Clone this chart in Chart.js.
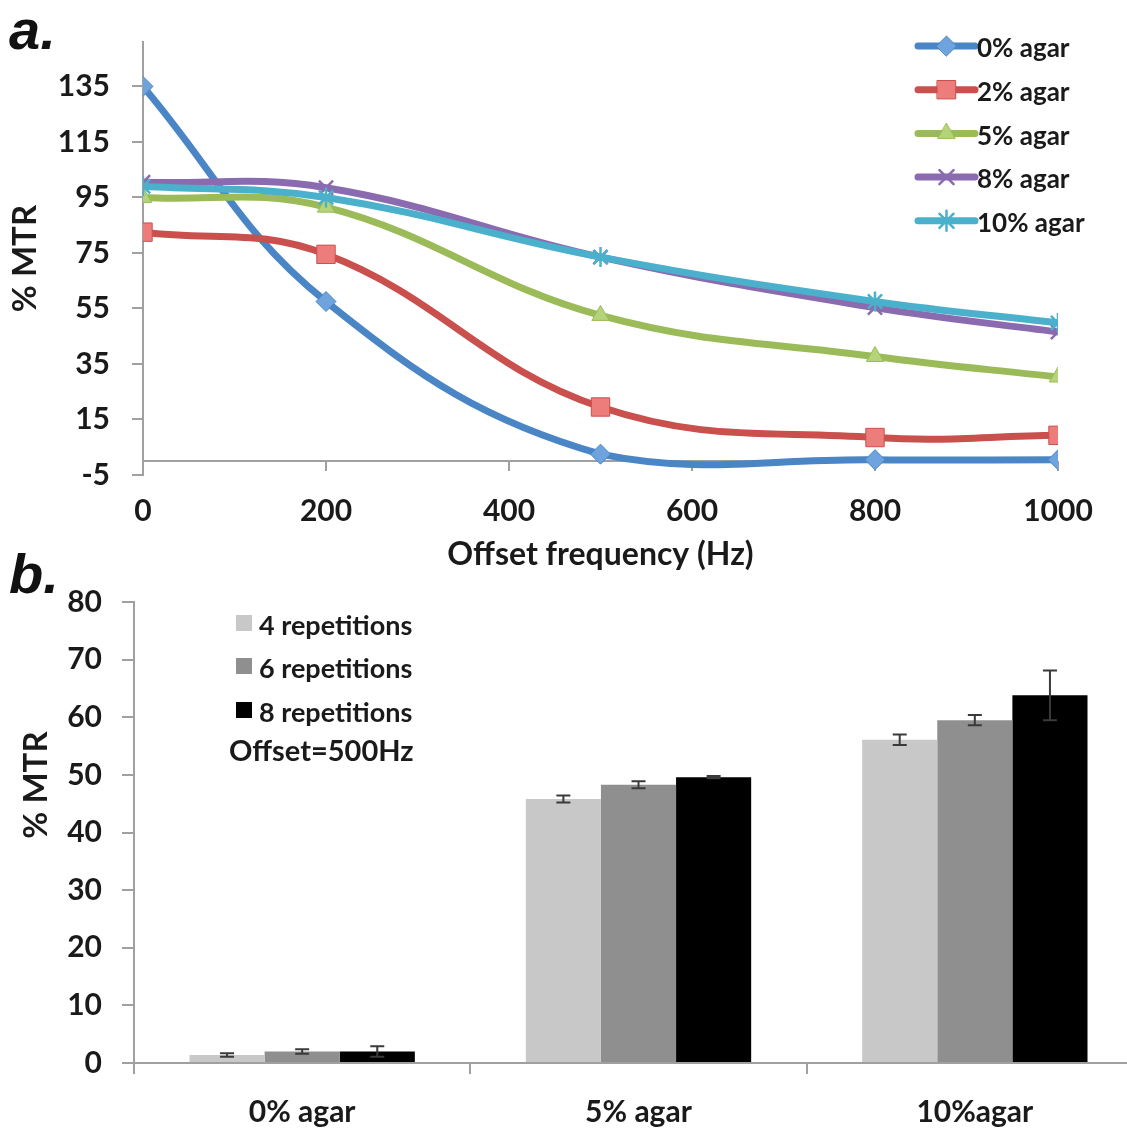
<!DOCTYPE html>
<html>
<head>
<meta charset="utf-8">
<script src="https://cdn.jsdelivr.net/npm/chart.js@4.4.0/dist/chart.umd.min.js"></script>
<style>
    html, body { margin: 0; padding: 0; background: #fff; overflow: hidden; width: 1127px; height: 1128px; }
    #wrap-a { position: absolute; left: 0; top: 0; width: 1127px; height: 580px; }
    #wrap-b { position: absolute; left: 0; top: 580px; width: 1150px; height: 548px; }
    .panel { position: absolute; font: italic bold 56px "Liberation Sans", Arial, sans-serif; color: #111; line-height: 1; }
</style>
</head>
<body>
<div id="wrap-a"><canvas id="chart-a"></canvas></div>
<div id="wrap-b"><canvas id="chart-b"></canvas></div>
<div class="panel" style="left:9px; top:2px;">a.</div>
<div class="panel" style="left:9px; top:546px;">b.</div>

<script>
// ---- panel a: MTR vs offset frequency ----
const offsets = [0, 200, 500, 800, 1000];
const agar0 = [135, 57.5, 2.5, 0.5, 0.5];
const agar2 = [82.5, 74.5, 19.5, 8.5, 9.3];
const agar5 = [95, 91.5, 52.5, 37.7, 30.3];
const agar8 = [100.5, 98.5, 73.5, 55.3, 46.5];
const agar10 = [99, 95, 73.5, 57.5, 49.8];
const yTicksA = [-5, 15, 35, 55, 75, 95, 115, 135];
const xTicksA = [0, 200, 400, 600, 800, 1000];

// ---- panel b: MTR at 500 Hz by repetitions ----
const groups = ['0% agar', '5% agar', '10%agar'];
const rep4 = [1.4, 45.8, 56.1];
const rep6 = [2.0, 48.3, 59.5];
const rep8 = [2.0, 49.6, 63.8];
const rep4Err = [0.3, 0.6, 0.9];
const rep6Err = [0.4, 0.6, 0.9];
const rep8Err = [0.9, 0.2, 4.3];
const yTicksB = [0, 10, 20, 30, 40, 50, 60, 70, 80];

const FONT = 'Lato, "Open Sans", sans-serif';
const AXIS_GREY = '#a0a0a0';
const TEXT = '#1a1a1a';

document.addEventListener('DOMContentLoaded', function() {

    function lineSet(label, values, color, fill, style, radius, order) {
        return {
            label: label,
            data: offsets.map((x, i) => ({ x: x, y: values[i] })),
            borderColor: color,
            backgroundColor: fill,
            borderWidth: 7,
            pointStyle: style,
            pointRadius: radius,
            pointBackgroundColor: fill,
            pointBorderColor: color,
            pointBorderWidth: (style === 'crossRot' || style === 'star') ? 2.5 : 1,
            tension: 0.4,
            fill: false,
            order: order
        };
    }

    // keep the chart area where the reference has it
    function noLabelPadding(scale) {
        scale.paddingTop = 0;
        scale.paddingBottom = 0;
    }

    // zero line with tick marks, like Excel's axis crossing at 0
    const zeroAxis = {
        id: 'zeroAxis',
        beforeDatasetsDraw(chart) {
            const ctx = chart.ctx;
            const xs = chart.scales.x, ys = chart.scales.y;
            const y0 = ys.getPixelForValue(0);
            ctx.save();
            ctx.strokeStyle = AXIS_GREY;
            ctx.lineWidth = 2;
            ctx.beginPath();
            ctx.moveTo(xs.left, y0);
            ctx.lineTo(xs.right, y0);
            xTicksA.forEach(v => {
                if (v === 0) return;
                const px = xs.getPixelForValue(v);
                ctx.moveTo(px, y0);
                ctx.lineTo(px, y0 + 10);
            });
            ctx.stroke();
            ctx.restore();
        }
    };

    // legend with line + marker samples inside the plot
    const lineLegend = {
        id: 'lineLegend',
        afterDraw(chart) {
            const ctx = chart.ctx;
            const x0 = 918, x1 = 975, top = 46, gap = 43.7;
            ctx.save();
            chart.data.datasets.forEach((ds, i) => {
                const y = top + i * gap;
                ctx.strokeStyle = ds.borderColor;
                ctx.lineWidth = 7;
                ctx.lineCap = 'round';
                ctx.beginPath();
                ctx.moveTo(x0, y);
                ctx.lineTo(x1, y);
                ctx.stroke();
                ctx.fillStyle = ds.pointBackgroundColor;
                ctx.strokeStyle = ds.pointBorderColor;
                ctx.lineWidth = ds.pointBorderWidth;
                Chart.helpers.drawPoint(ctx, {
                    pointStyle: ds.pointStyle,
                    radius: ds.pointRadius,
                    rotation: 0,
                    borderWidth: ds.pointBorderWidth
                }, (x0 + x1) / 2, y);
                ctx.fillStyle = TEXT;
                ctx.font = 'bold 26px ' + FONT;
                ctx.textBaseline = 'middle';
                ctx.textAlign = 'left';
                ctx.fillText(ds.label, x1 + 2, y + 3);
            });
            ctx.restore();
        }
    };

    const ctxA = document.getElementById('chart-a').getContext('2d');
    const chartA = new Chart(ctxA, {
        type: 'line',
        data: {
            datasets: [
                lineSet('0% agar', agar0, '#4a85c6', '#6fa3dd', 'rectRot', 10, 5),
                lineSet('2% agar', agar2, '#c9504d', '#ec7d7b', 'rect', 13, 4),
                lineSet('5% agar', agar5, '#9bbb59', '#b5d47a', 'triangle', 10, 3),
                lineSet('8% agar', agar8, '#8a6bb0', '#8a6bb0', 'crossRot', 10, 2),
                lineSet('10% agar', agar10, '#4bb0cb', '#4bb0cb', 'star', 10, 1)
            ]
        },
        options: {
            responsive: true,
            maintainAspectRatio: false,
            animation: false,
            layout: { padding: { top: 42, right: 69, bottom: 0, left: 0 } },
            plugins: {
                legend: { display: false },
                tooltip: { enabled: false }
            },
            scales: {
                x: {
                    type: 'linear',
                    min: 0,
                    max: 1000,
                    afterBuildTicks: function(scale) {
                        scale.ticks = xTicksA.map(v => ({ value: v }));
                    },
                    afterFit: function(scale) { scale.height = 105; },
                    border: { display: false },
                    grid: { display: false },
                    ticks: {
                        color: TEXT,
                        padding: 10,
                        maxRotation: 0,
                        font: { family: FONT, size: 30, weight: 'bold' },
                        callback: function(value) { return String(value); }
                    },
                    title: {
                        display: true,
                        text: 'Offset frequency (Hz)',
                        color: TEXT,
                        padding: { top: 0, bottom: 6 },
                        font: { family: FONT, size: 32, weight: 'bold' }
                    }
                },
                y: {
                    min: -5,
                    max: 151,
                    afterBuildTicks: function(scale) {
                        scale.ticks = yTicksA.map(v => ({ value: v }));
                    },
                    afterFit: function(scale) {
                        scale.width = 143;
                        noLabelPadding(scale);
                    },
                    border: { display: true, color: AXIS_GREY, width: 2 },
                    grid: {
                        drawOnChartArea: false,
                        color: AXIS_GREY,
                        lineWidth: 2,
                        tickLength: 11
                    },
                    ticks: {
                        color: TEXT,
                        padding: 22,
                        font: { family: FONT, size: 30, weight: 'bold' }
                    },
                    title: {
                        display: true,
                        text: '% MTR',
                        color: TEXT,
                        padding: { top: 6, bottom: 0 },
                        font: { family: FONT, size: 33, weight: 'bold' }
                    }
                }
            }
        },
        plugins: [zeroAxis, lineLegend]
    });

    // error bars drawn from the named error arrays
    const errorBars = {
        id: 'errorBars',
        afterDatasetsDraw(chart) {
            const ctx = chart.ctx;
            const ys = chart.scales.y;
            ctx.save();
            ctx.strokeStyle = '#3a3a3a';
            ctx.lineWidth = 2;
            chart.data.datasets.forEach((ds, i) => {
                const meta = chart.getDatasetMeta(i);
                meta.data.forEach((bar, j) => {
                    const v = ds.data[j], e = ds.errors[j];
                    const yt = ys.getPixelForValue(v + e);
                    const yb = ys.getPixelForValue(v - e);
                    const cap = 7;
                    ctx.beginPath();
                    ctx.moveTo(bar.x, yt);
                    ctx.lineTo(bar.x, yb);
                    ctx.moveTo(bar.x - cap, yt);
                    ctx.lineTo(bar.x + cap, yt);
                    ctx.moveTo(bar.x - cap, yb);
                    ctx.lineTo(bar.x + cap, yb);
                    ctx.stroke();
                });
            });
            ctx.restore();
        }
    };

    // legend boxes, the offset note and the y title (placed high, as in the figure)
    const boxLegend = {
        id: 'boxLegend',
        afterDraw(chart) {
            const ctx = chart.ctx;
            const rows = [45, 88, 132];
            ctx.save();
            ctx.font = 'bold 27px ' + FONT;
            ctx.textBaseline = 'middle';
            ctx.textAlign = 'left';
            chart.data.datasets.forEach((ds, i) => {
                ctx.fillStyle = ds.backgroundColor;
                ctx.fillRect(236, rows[i] - 10, 16, 16);
                ctx.fillStyle = TEXT;
                ctx.fillText(ds.label, 259, rows[i] + 1);
            });
            ctx.font = 'bold 29px ' + FONT;
            ctx.fillText('Offset=500Hz', 229, 172);

            ctx.translate(36, 205);
            ctx.rotate(-Math.PI / 2);
            ctx.textAlign = 'center';
            ctx.font = 'bold 33px ' + FONT;
            ctx.fillText('% MTR', 0, 0);
            ctx.restore();
        }
    };

    function barSet(label, values, errors, color) {
        return {
            label: label,
            data: values,
            errors: errors,
            backgroundColor: color,
            borderWidth: 0,
            categoryPercentage: 0.67,
            barPercentage: 1.0
        };
    }

    const ctxB = document.getElementById('chart-b').getContext('2d');
    const chartB = new Chart(ctxB, {
        type: 'bar',
        data: {
            labels: groups,
            datasets: [
                barSet('4 repetitions', rep4, rep4Err, '#c8c8c8'),
                barSet('6 repetitions', rep6, rep6Err, '#8f8f8f'),
                barSet('8 repetitions', rep8, rep8Err, '#000000')
            ]
        },
        options: {
            responsive: true,
            maintainAspectRatio: false,
            animation: false,
            layout: { padding: { top: 22, right: 7, bottom: 0, left: 0 } },
            plugins: {
                legend: { display: false },
                tooltip: { enabled: false }
            },
            scales: {
                x: {
                    afterFit: function(scale) { scale.height = 65; },
                    border: { display: true, color: AXIS_GREY, width: 2 },
                    grid: {
                        offset: true,
                        drawOnChartArea: false,
                        color: AXIS_GREY,
                        lineWidth: 2,
                        tickLength: 11
                    },
                    ticks: {
                        color: TEXT,
                        padding: 20,
                        font: { family: FONT, size: 30, weight: 'bold' }
                    }
                },
                y: {
                    min: 0,
                    max: 80,
                    afterBuildTicks: function(scale) {
                        scale.ticks = yTicksB.map(v => ({ value: v }));
                    },
                    afterFit: function(scale) {
                        scale.width = 134;
                        noLabelPadding(scale);
                    },
                    border: { display: true, color: AXIS_GREY, width: 2 },
                    grid: {
                        drawOnChartArea: false,
                        color: AXIS_GREY,
                        lineWidth: 2,
                        tickLength: 12
                    },
                    ticks: {
                        color: TEXT,
                        padding: 20,
                        font: { family: FONT, size: 30, weight: 'bold' }
                    }
                }
            }
        },
        plugins: [errorBars, boxLegend]
    });
});
</script>
</body>
</html>
